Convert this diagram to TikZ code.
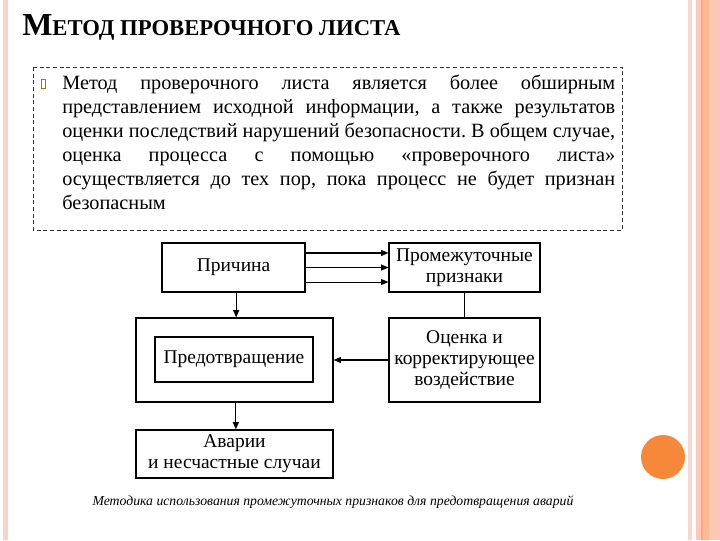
\documentclass[tikz,border=0pt]{standalone}
\usepackage{fontspec}
\setmainfont{Liberation Serif}
\usetikzlibrary{arrows.meta}

\definecolor{polosa}{RGB}{249,211,200}
\definecolor{polosaB}{RGB}{253,201,181}
\definecolor{polosaT}{RGB}{242,169,138}
\definecolor{krug}{RGB}{247,136,58}

\tikzset{
  blok/.style={draw, line width=0.9pt, align=center, inner sep=0pt,
    font=\fontsize{14.6}{15.6}\selectfont},
  strelka/.style={-{Triangle[length=5.5pt,width=4.5pt]}, line width=0.8pt}
}

\begin{document}
\frenchspacing
\begin{tikzpicture}[x=0.75pt,y=0.75pt,yscale=-1]
\useasboundingbox (0,0) rectangle (720,540);

%Shape: stripes at the sides
\fill[polosa] (3,0) rectangle (8,540);
\fill[polosa!90!white] (688,0) rectangle (692,540);
\fill[polosaB] (696,0) rectangle (720,540);
\fill[polosaB!80!orange] (703,0) rectangle (709,540);
\fill[polosaT] (701,0) rectangle (703,540);
%Shape: Circle
\fill[krug] (663,457) circle [radius=22];

% Title
\node[anchor=base west, inner sep=0pt] (zagolovok) at (22,35)
  {\bfseries\fontsize{24}{26}\selectfont М\fontsize{17}{20}\selectfont ЕТОД ПРОВЕРОЧНОГО ЛИСТА};

% Text Node
\draw[densely dashed, line width=0.7pt, black!80] (33,67) rectangle (622,230);
\draw[orange!80!black, line width=0.5pt] (41,79) rectangle (45,88);
\node[anchor=north west, inner sep=0pt, text width=414.75pt, align=justify,
  font=\fontsize{15.2}{18}\selectfont] (tekst) at (62,75)
  {Метод проверочного листа является более обширным представлением исходной информации, а также результатов\linebreak оценки последствий нарушений безопасности. В общем случае,\linebreak оценка процесса с помощью «проверочного листа»\linebreak осуществляется до тех пор, пока процесс не будет признан\linebreak безопасным};

% Boxes
\node[blok, minimum width=107.25pt, minimum height=36.75pt] (prichina) at (233.5,267.5) {Причина};
\node[blok, minimum width=113.25pt, minimum height=36.75pt] (priznaki) at (464.5,267.5) {Промежуточные\\признаки};
\node[blok, minimum width=113.25pt, minimum height=63pt] (ocenka) at (464.5,360) {Оценка и\\корректирующее\\воздействие};
\node[blok, minimum width=147.75pt, minimum height=63pt] (zashchita) at (234.5,360) {};
\node[blok, minimum width=118.5pt, minimum height=33.75pt] (predotvr) at (234,359.5) {Предотвращение};
\node[blok, minimum width=147.75pt, minimum height=36pt] (avarii) at (234.5,454) {Аварии\\и несчастные случаи};

% Connectors
\foreach \dy in {-10.9pt,0pt,10.9pt}
  \draw[strelka] ([yshift=\dy]prichina.east) -- ([yshift=\dy]priznaki.west);
\draw[line width=0.8pt] (priznaki.south) -- (ocenka.north);
\draw[strelka] (ocenka.west) -- (zashchita.east);
\draw[strelka] ([xshift=2pt]prichina.south) -- ([xshift=2pt]prichina.south |- zashchita.north);
\draw[strelka] ([xshift=1pt]zashchita.south) -- ([xshift=1pt]zashchita.south |- avarii.north);

% Caption
\node[font=\itshape\fontsize{10.3}{13}\selectfont] (podpis) at (333,502)
  {Методика использования промежуточных признаков для предотвращения аварий};

\end{tikzpicture}
\end{document}
